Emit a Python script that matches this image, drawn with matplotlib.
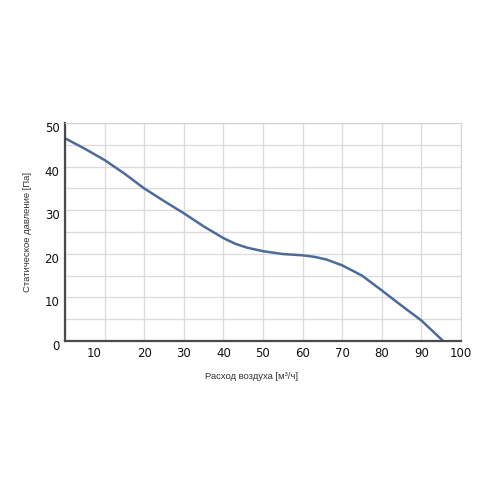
import numpy as np
import matplotlib
matplotlib.use('Agg')
from matplotlib import pyplot as plt
from matplotlib import font_manager
from matplotlib.transforms import ScaledTranslation

# curve
flow = [0, 5, 10, 15, 20, 25, 30, 35, 40, 43, 46, 50, 55, 60, 63, 66, 70, 75, 80, 85, 90, 95.5]
pressure = [46.5, 44.1, 41.5, 38.4, 35.0, 32.1, 29.3, 26.3, 23.6, 22.3, 21.4, 20.6, 19.95,
            19.65, 19.3, 18.7, 17.35, 15.0, 11.6, 8.1, 4.7, 0.0]

xticks = [10, 20, 30, 40, 50, 60, 70, 80, 90, 100]
yticks = [0, 10, 20, 30, 40, 50]

# narrow font for axis titles if there is one
try:
    font_manager.findfont('Liberation Sans Narrow', fallback_to_default=False)
    lab_font = ['Liberation Sans Narrow', 'DejaVu Sans']
    lab_size = 7.2
except ValueError:
    lab_font = ['Liberation Sans', 'DejaVu Sans']
    lab_size = 6.8

fig = plt.figure(figsize=(5, 5), dpi=100)
ax = fig.add_axes([0.13, 0.318, 0.792, 0.436])

ax.plot(flow, pressure, color='#4d6b9a', lw=1.8, solid_capstyle='round')

ax.set_xlim(0, 100)
ax.set_ylim(0, 50)
ax.set_xticks(np.arange(0, 101, 10))
ax.set_xticklabels([''] + [str(t) for t in xticks])
ax.set_yticks(yticks)
ax.set_yticks(np.arange(5, 50, 10), minor=True)
ax.grid(True, which='both', color='#dcdcdc', lw=1)
ax.set_axisbelow(True)
ax.tick_params(which='both', length=0, labelsize=8.5, pad=4, labelcolor='#111111')

for s in ['top', 'right']:
    ax.spines[s].set_color('#d4d4d4')
for s in ['left', 'bottom']:
    ax.spines[s].set_color('#4a4a4a')
    ax.spines[s].set_linewidth(1.6)

# first x label sits left of its grid line in the reference
lbl = ax.get_xticklabels()
lbl[1].set_transform(lbl[1].get_transform() + ScaledTranslation(-10/100, 0, fig.dpi_scale_trans))
for l in ax.get_yticklabels():
    l.set_transform(l.get_transform() + ScaledTranslation(0, -4/100, fig.dpi_scale_trans))

ax.set_xlabel('Расход воздуха [м³/ч]', family=lab_font, fontsize=lab_size, color='#333333')
ax.xaxis.set_label_coords(0.47, -0.14)
ax.set_ylabel('Статическое давление [Па]', family=lab_font, fontsize=lab_size, color='#333333', labelpad=9)

plt.savefig('out.png', dpi=100)
